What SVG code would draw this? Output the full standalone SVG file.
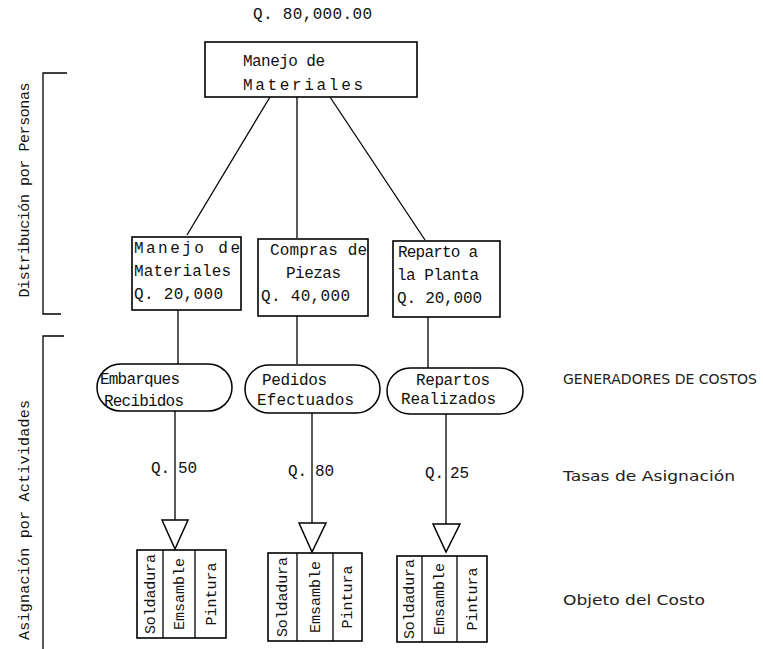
<svg xmlns="http://www.w3.org/2000/svg" width="763" height="649" viewBox="0 0 763 649">
  <style>
    .box { fill: #fff; stroke: #000; stroke-width: 1.6; }
    .pill { fill: #fff; stroke: #000; stroke-width: 1.5; }
    .ln { fill: none; stroke: #000; stroke-width: 1.3; }
    .arrow { fill: #fff; stroke: #000; stroke-width: 1.5; stroke-linejoin: miter; }
    .t { font-family: "Liberation Mono", "DejaVu Sans Mono", monospace; font-size: 16px; fill: #111; }
    .vt { font-family: "Liberation Mono", "DejaVu Sans Mono", monospace; font-size: 15px; fill: #111; }
    .rot { font-family: "Liberation Mono", "DejaVu Sans Mono", monospace; font-size: 15px; fill: #111; }
    .side { font-family: "DejaVu Sans", "Liberation Sans", sans-serif; font-size: 14.5px; fill: #222; }
  </style>

  <rect width="763" height="649" fill="#fff"/>

  <!-- total cost -->
  <text class="t" x="253" y="19" textLength="119" lengthAdjust="spacing">Q. 80,000.00</text>

  <!-- side brackets -->
  <g id="brackets">
    <path class="ln" d="M67,73 H43 V314 H61" stroke-width="1.6"/>
    <path class="ln" d="M64,336 H43 V649" stroke-width="1.6"/>
    <text class="rot" transform="translate(29,190) rotate(-90)" text-anchor="middle" textLength="215" lengthAdjust="spacing">Distribución por Personas</text>
    <text class="rot" transform="translate(29,520) rotate(-90)" text-anchor="middle" textLength="240" lengthAdjust="spacing">Asignación por Actividades</text>
  </g>

  <!-- connectors -->
  <g id="connectors">
    <line class="ln" x1="270" y1="97" x2="187" y2="235"/>
    <line class="ln" x1="297" y1="97" x2="297" y2="238"/>
    <line class="ln" x1="330" y1="97" x2="425" y2="240"/>
    <line class="ln" x1="178" y1="310" x2="178" y2="364"/>
    <line class="ln" x1="297" y1="316" x2="297" y2="364"/>
    <line class="ln" x1="428" y1="317" x2="428" y2="368"/>
    <line class="ln" x1="175" y1="411" x2="175" y2="520"/>
    <line class="ln" x1="312" y1="413" x2="312" y2="523"/>
    <line class="ln" x1="446" y1="414" x2="446" y2="524"/>
    <path class="arrow" d="M162,520 H188 L175,549 Z"/>
    <path class="arrow" d="M299,523 H326 L312,552 Z"/>
    <path class="arrow" d="M433,524 H460 L446,552 Z"/>
  </g>

  <!-- rate labels -->
  <text class="t" x="151" y="473">Q.</text>
  <text class="t" x="178" y="473">50</text>
  <text class="t" x="288" y="476">Q.</text>
  <text class="t" x="315" y="476">80</text>
  <text class="t" x="425" y="478">Q.</text>
  <text class="t" x="450" y="478">25</text>

  <!-- top node -->
  <g id="manejo-total">
    <rect class="box" x="205" y="42" width="212" height="55"/>
    <text class="t" x="243" y="66" textLength="82" lengthAdjust="spacing">Manejo de</text>
    <text class="t" x="243" y="90" textLength="120" lengthAdjust="spacing">Materiales</text>
  </g>

  <!-- activity nodes -->
  <g id="manejo">
    <rect class="box" x="132" y="237" width="109" height="73"/>
    <text class="t" x="134" y="253" textLength="106" lengthAdjust="spacing">Manejo de</text>
    <text class="t" x="134" y="276" textLength="97" lengthAdjust="spacing">Materiales</text>
    <text class="t" x="134" y="299" textLength="89" lengthAdjust="spacing">Q. 20,000</text>
  </g>
  <g id="compras">
    <rect class="box" x="258" y="239" width="110" height="77"/>
    <text class="t" x="270" y="255" textLength="97" lengthAdjust="spacing">Compras de</text>
    <text class="t" x="286" y="278" textLength="55" lengthAdjust="spacing">Piezas</text>
    <text class="t" x="261" y="301" textLength="89" lengthAdjust="spacing">Q. 40,000</text>
  </g>
  <g id="reparto">
    <rect class="box" x="393" y="241" width="107" height="76"/>
    <text class="t" x="398" y="257" textLength="80" lengthAdjust="spacing">Reparto a</text>
    <text class="t" x="397" y="280" textLength="82" lengthAdjust="spacing">la Planta</text>
    <text class="t" x="397" y="303" textLength="85" lengthAdjust="spacing">Q. 20,000</text>
  </g>

  <!-- cost drivers -->
  <g id="embarques">
    <rect class="pill" x="97" y="364" width="135" height="47" rx="23.5"/>
    <text class="t" x="100" y="384" textLength="80" lengthAdjust="spacing">Embarques</text>
    <text class="t" x="104" y="406" textLength="80" lengthAdjust="spacing">Recibidos</text>
  </g>
  <g id="pedidos">
    <rect class="pill" x="245" y="365" width="135" height="48" rx="24"/>
    <text class="t" x="262" y="385" textLength="65" lengthAdjust="spacing">Pedidos</text>
    <text class="t" x="257" y="405" textLength="97" lengthAdjust="spacing">Efectuados</text>
  </g>
  <g id="repartos">
    <rect class="pill" x="387" y="368" width="136" height="46" rx="23"/>
    <text class="t" x="416" y="385" textLength="74" lengthAdjust="spacing">Repartos</text>
    <text class="t" x="401" y="404" textLength="95" lengthAdjust="spacing">Realizados</text>
  </g>

  <!-- cost objects -->
  <g id="objetos-1">
    <rect class="box" x="137" y="550" width="89" height="88"/>
    <line class="ln" x1="163" y1="550" x2="163" y2="638"/>
    <line class="ln" x1="195" y1="550" x2="195" y2="638"/>
    <text class="vt" transform="translate(155,594) rotate(-90)" text-anchor="middle" textLength="80" lengthAdjust="spacing">Soldadura</text>
    <text class="vt" transform="translate(184,594) rotate(-90)" text-anchor="middle" textLength="72" lengthAdjust="spacing">Emsamble</text>
    <text class="vt" transform="translate(216,594) rotate(-90)" text-anchor="middle" textLength="63" lengthAdjust="spacing">Pintura</text>
  </g>
  <g id="objetos-2">
    <rect class="box" x="268" y="553" width="94" height="88"/>
    <line class="ln" x1="297" y1="553" x2="297" y2="641"/>
    <line class="ln" x1="333" y1="553" x2="333" y2="641"/>
    <text class="vt" transform="translate(287,597) rotate(-90)" text-anchor="middle" textLength="80" lengthAdjust="spacing">Soldadura</text>
    <text class="vt" transform="translate(320,597) rotate(-90)" text-anchor="middle" textLength="72" lengthAdjust="spacing">Emsamble</text>
    <text class="vt" transform="translate(352,597) rotate(-90)" text-anchor="middle" textLength="63" lengthAdjust="spacing">Pintura</text>
  </g>
  <g id="objetos-3">
    <rect class="box" x="397" y="556" width="90" height="86"/>
    <line class="ln" x1="422" y1="556" x2="422" y2="642"/>
    <line class="ln" x1="457" y1="556" x2="457" y2="642"/>
    <text class="vt" transform="translate(414,599) rotate(-90)" text-anchor="middle" textLength="80" lengthAdjust="spacing">Soldadura</text>
    <text class="vt" transform="translate(444,599) rotate(-90)" text-anchor="middle" textLength="72" lengthAdjust="spacing">Emsamble</text>
    <text class="vt" transform="translate(477,599) rotate(-90)" text-anchor="middle" textLength="63" lengthAdjust="spacing">Pintura</text>
  </g>

  <!-- row legends -->
  <text class="side" x="563" y="384" textLength="194" lengthAdjust="spacingAndGlyphs">GENERADORES DE COSTOS</text>
  <text class="side" x="563" y="481" textLength="172" lengthAdjust="spacingAndGlyphs">Tasas de Asignación</text>
  <text class="side" x="563" y="605" textLength="142" lengthAdjust="spacingAndGlyphs">Objeto del Costo</text>
</svg>
